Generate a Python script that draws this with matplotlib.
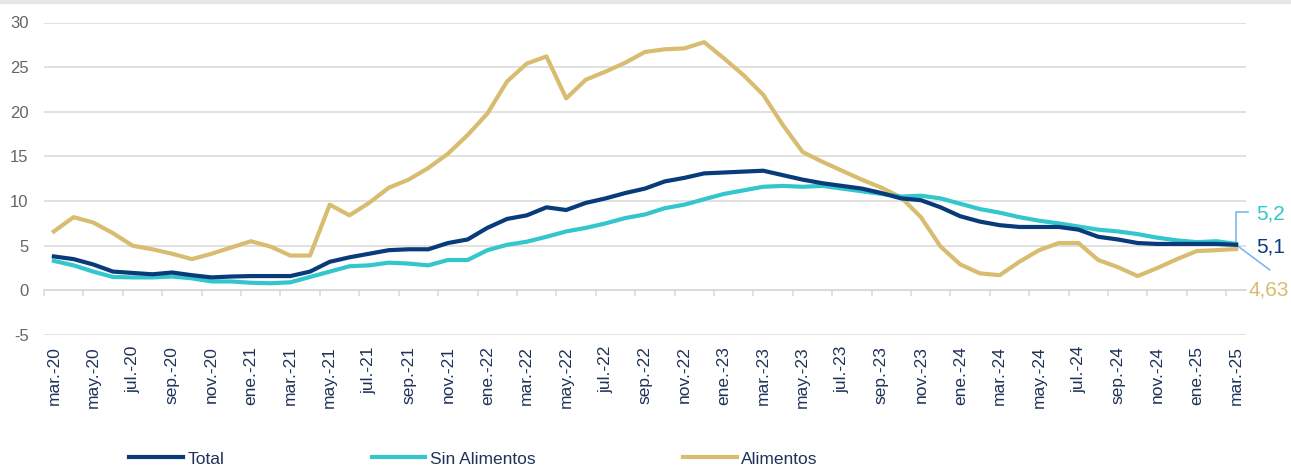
import numpy as np
import matplotlib
matplotlib.use("Agg")
import matplotlib.pyplot as plt
from matplotlib.patches import Rectangle

plt.rcParams['font.family'] = ['Liberation Sans', 'DejaVu Sans']
plt.rcParams['axes.unicode_minus'] = False

# Inflacion interanual (%), mar-20 a mar-25
meses = ['mar', 'abr', 'may', 'jun', 'jul', 'ago', 'sep', 'oct', 'nov', 'dic', 'ene', 'feb']
etiquetas = []
for k in range(61):
    m = meses[k % 12]
    anio = 20 + (k + 2) // 12
    etiquetas.append(m + '.-' + str(anio))

total = [3.8, 3.5, 2.9, 2.1, 1.95, 1.8, 2.0, 1.7, 1.45, 1.55, 1.6, 1.6, 1.6, 2.1, 3.2, 3.7,
         4.1, 4.5, 4.6, 4.6, 5.3, 5.7, 7.0, 8.0, 8.4, 9.3, 9.0, 9.8, 10.3, 10.9, 11.4, 12.2,
         12.6, 13.1, 13.2, 13.3, 13.4, 12.9, 12.4, 12.0, 11.7, 11.4, 10.9, 10.3, 10.1, 9.3,
         8.3, 7.7, 7.3, 7.1, 7.1, 7.1, 6.8, 6.0, 5.7, 5.3, 5.2, 5.2, 5.2, 5.2, 5.1]
sin_alimentos = [3.3, 2.8, 2.1, 1.5, 1.45, 1.45, 1.55, 1.35, 1.0, 1.0, 0.85, 0.8, 0.9, 1.5,
                 2.1, 2.7, 2.8, 3.1, 3.0, 2.8, 3.4, 3.4, 4.5, 5.1, 5.45, 6.0, 6.6, 7.0, 7.5,
                 8.1, 8.5, 9.2, 9.6, 10.2, 10.8, 11.2, 11.6, 11.7, 11.6, 11.7, 11.4, 11.1,
                 10.8, 10.5, 10.6, 10.3, 9.7, 9.1, 8.7, 8.2, 7.8, 7.5, 7.15, 6.8, 6.6, 6.3,
                 5.9, 5.6, 5.4, 5.5, 5.2]
alimentos = [6.6, 8.2, 7.6, 6.4, 5.0, 4.6, 4.1, 3.5, 4.1, 4.8, 5.5, 4.9, 3.9, 3.9, 9.6, 8.4,
             9.8, 11.5, 12.4, 13.7, 15.3, 17.4, 19.8, 23.4, 25.4, 26.2, 21.5, 23.6, 24.5,
             25.5, 26.7, 27.0, 27.1, 27.8, 26.0, 24.1, 21.9, 18.5, 15.5, 14.4, 13.4, 12.4,
             11.5, 10.4, 8.2, 4.9, 2.9, 1.9, 1.7, 3.2, 4.5, 5.3, 5.3, 3.4, 2.6, 1.6, 2.5,
             3.5, 4.4, 4.5, 4.63]

c_total = '#073b79'
c_sin = '#33c6cc'
c_ali = '#d8bc70'
c_guia = '#7cb8ee'

x = np.arange(len(total))

fig = plt.figure(figsize=(12.91, 4.68), dpi=100)
ax = fig.add_axes([44 / 1291, 1 - 335 / 468, 1202 / 1291, 312.5 / 468])

ax.plot(x, total, color=c_total, lw=3.0, label='Total', zorder=4)
ax.plot(x, sin_alimentos, color=c_sin, lw=3.0, label='Sin Alimentos', zorder=3)
ax.plot(x, alimentos, color=c_ali, lw=3.0, label='Alimentos', zorder=2)

ax.set_xlim(-0.5, 60.5)
ax.set_ylim(-5, 30)
ax.set_yticks(np.arange(-5, 31, 5))
ax.grid(axis='y', color='#d9d9d9', lw=1.1)
ax.set_axisbelow(True)
for s in ax.spines.values():
    s.set_visible(False)

ax.set_xticks(x[::2])
ax.set_xticklabels(etiquetas[::2], rotation=90, fontsize=12.5, color='#1f3358', va='top')
ax.tick_params(axis='x', length=0, pad=8)
ax.tick_params(axis='y', length=0, pad=11, labelsize=12, labelcolor='#666666')

# marcas del eje en y=0
eje0 = ax.secondary_xaxis(5 / 35)
eje0.set_xticks(np.arange(-0.5, 60, 2))
eje0.set_xticklabels([])
eje0.tick_params(axis='x', direction='out', length=4.5, width=1.1, color='#d9d9d9')
eje0.spines['bottom'].set_color('#d9d9d9')
eje0.spines['bottom'].set_linewidth(1.1)

# etiquetas del ultimo dato
ax.plot([60, 60, 60.6], [total[-1], 8.8, 8.8], color=c_guia, lw=1.2, clip_on=False)
ax.plot([60, 61.7], [total[-1], 2.3], color=c_guia, lw=1.2, clip_on=False)
ax.text(61.0, 8.6, '5,2', color=c_sin, fontsize=15, va='center', ha='left')
ax.text(61.0, 4.85, '5,1', color=c_total, fontsize=15, va='center', ha='left')
ax.text(60.65, 0.05, '4,63', color=c_ali, fontsize=15, va='center', ha='left')

fig.legend(loc='center left', bbox_to_anchor=(129 / 1291, 1 - 459 / 468), ncol=3,
           frameon=False, fontsize=12.5, handlelength=3.1, handletextpad=0.25,
           columnspacing=8.5, borderpad=0, borderaxespad=0, labelcolor='#1f3358')

fig.patches.append(Rectangle((0, 1 - 3 / 468), 1, 3 / 468, transform=fig.transFigure,
                             color='#e6e6e6', zorder=0))

fig.savefig('out.png', dpi=100)
